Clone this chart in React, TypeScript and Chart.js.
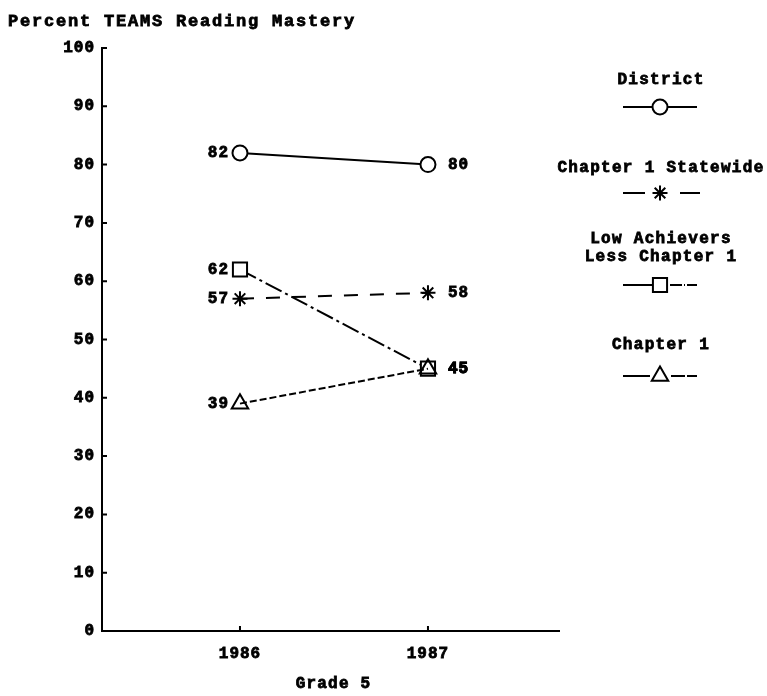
import React, { useEffect, useRef } from 'react';
import { Chart, registerables } from 'chart.js';
import { drawPoint } from 'chart.js/helpers';

Chart.register(...registerables);

// ---- data ----
const years = [1986, 1987];
const yTickValues = [0, 10, 20, 30, 40, 50, 60, 70, 80, 90, 100];
const district = [82, 80];
const statewide = [57, 58];
const lowAchievers = [62, 45];
const chapter1 = [39, 45];
const seriesNames = ['District', 'Chapter 1 Statewide', 'Low Achievers\nLess Chapter 1', 'Chapter 1'];
const chartTitle = 'Percent TEAMS Reading Mastery';
const xTitle = 'Grade 5';

const FONT = "'Liberation Mono', 'DejaVu Sans Mono', monospace";

const toPoints = (vals: number[]) => vals.map((v, i) => ({ x: years[i], y: v }));

const styles = [
  { pointStyle: 'circle', radius: 7.5, dash: [] as number[], order: 0, fill: '#fff' },
  { pointStyle: 'star', radius: 7.5, dash: [14, 12], order: 0, fill: '#fff' },
  { pointStyle: 'rect', radius: 10, dash: [18, 4, 3, 4], order: 0, fill: '#fff' },
  { pointStyle: 'triangle', radius: 9.5, dash: [7, 3], order: -1, fill: 'rgba(255,255,255,0)' },
];

const seriesValues = [district, statewide, lowAchievers, chapter1];

const boldText = (ctx: CanvasRenderingContext2D, t: string, x: number, y: number) => {
  ctx.fillText(t, x, y);
  ctx.strokeText(t, x, y);
};

const decorPlugin = {
  id: 'decor',
  beforeDraw(chart: any) {
    const ctx = chart.ctx;
    ctx.fillStyle = '#fff';
    ctx.fillRect(0, 0, chart.width, chart.height);
    (ctx as any).letterSpacing = '1px';
  },
  afterDraw(chart: any) {
    const ctx: CanvasRenderingContext2D = chart.ctx;
    const xs = chart.scales.x;
    const ys = chart.scales.y;
    const area = chart.chartArea;
    ctx.save();
    // inward tick marks
    ctx.strokeStyle = '#000';
    ctx.lineWidth = 2;
    ctx.setLineDash([]);
    ctx.beginPath();
    yTickValues.forEach((v) => {
      const y = ys.getPixelForValue(v);
      ctx.moveTo(area.left, y);
      ctx.lineTo(area.left + 5, y);
    });
    years.forEach((yr) => {
      const x = xs.getPixelForValue(yr);
      ctx.moveTo(x, area.bottom);
      ctx.lineTo(x, area.bottom - 5);
    });
    ctx.stroke();

    ctx.fillStyle = '#000';
    ctx.strokeStyle = '#000';
    ctx.lineWidth = 0.8;

    // title
    (ctx as any).letterSpacing = '1.8px';
    ctx.font = `bold 17px ${FONT}`;
    ctx.textAlign = 'left';
    ctx.textBaseline = 'alphabetic';
    boldText(ctx, chartTitle, 8, 26);

    // x axis title
    (ctx as any).letterSpacing = '1.2px';
    ctx.font = `bold 16px ${FONT}`;
    ctx.textAlign = 'center';
    ctx.textBaseline = 'middle';
    boldText(ctx, xTitle, (area.left + area.right) / 2 + 3, 684);

    // data labels
    (ctx as any).letterSpacing = '1px';
    ctx.font = `bold 16px ${FONT}`;
    ctx.textBaseline = 'middle';
    chart.data.datasets.forEach((ds: any, di: number) => {
      const meta = chart.getDatasetMeta(di);
      meta.data.forEach((el: any, i: number) => {
        const v = ds.data[i].y;
        if (i === 0) {
          ctx.textAlign = 'right';
          boldText(ctx, String(v), el.x - 11, el.y);
        } else {
          ctx.textAlign = 'left';
          boldText(ctx, String(v), el.x + 20, el.y);
        }
      });
    });

    // legend
    const cx = 660;
    const legend = [
      { textY: [80], symY: 107, left: [623, 697], right: null as null | number[] },
      { textY: [168], symY: 193, left: [623, 645], right: [680, 700] },
      { textY: [239, 257], symY: 285, left: [623, 652], right: [667, 697] },
      { textY: [345], symY: 376, left: [623, 650], right: [671, 697] },
    ];
    (ctx as any).letterSpacing = '1.3px';
    ctx.font = `bold 16px ${FONT}`;
    ctx.textAlign = 'center';
    ctx.textBaseline = 'middle';
    legend.forEach((lg, i) => {
      const lines = seriesNames[i].split('\n');
      ctx.lineWidth = 0.8;
      lines.forEach((t, k) => boldText(ctx, t, cx + 1, lg.textY[k]));
      ctx.lineWidth = 2;
      ctx.strokeStyle = '#000';
      if (i === 1) {
        ctx.setLineDash([]);
        ctx.beginPath();
        ctx.moveTo(lg.left[0], lg.symY);
        ctx.lineTo(lg.left[1], lg.symY);
        ctx.moveTo(lg.right![0], lg.symY);
        ctx.lineTo(lg.right![1], lg.symY);
        ctx.stroke();
      } else {
        ctx.setLineDash([]);
        ctx.beginPath();
        ctx.moveTo(lg.left[0], lg.symY);
        ctx.lineTo(lg.left[1], lg.symY);
        ctx.stroke();
        if (lg.right) {
          ctx.setLineDash(i === 2 ? [1, 2, 12, 2] : [14, 2]);
          ctx.beginPath();
          ctx.moveTo(lg.right[0], lg.symY);
          ctx.lineTo(lg.right[1], lg.symY);
          ctx.stroke();
        }
      }
      ctx.setLineDash([]);
      ctx.fillStyle = '#fff';
      ctx.strokeStyle = '#000';
      ctx.lineWidth = 2;
      drawPoint(ctx, { pointStyle: styles[i].pointStyle as any, radius: styles[i].radius, rotation: 0, borderWidth: 2 } as any, cx, lg.symY);
      ctx.fillStyle = '#000';
    });
    ctx.restore();
  },
};

export default function App() {
  const ref = useRef<HTMLCanvasElement | null>(null);
  useEffect(() => {
    if (!ref.current) return;
    const chart = new Chart(ref.current, {
      type: 'line',
      data: {
        datasets: seriesValues.map((vals, i) => ({
          label: seriesNames[i],
          data: toPoints(vals),
          order: styles[i].order,
          borderColor: '#000',
          borderWidth: 2,
          borderDash: styles[i].dash,
          pointStyle: styles[i].pointStyle as any,
          pointRadius: styles[i].radius,
          pointBackgroundColor: styles[i].fill,
          pointBorderColor: '#000',
          pointBorderWidth: 2,
          fill: false,
          tension: 0,
        })),
      },
      options: {
        animation: false,
        responsive: false,
        devicePixelRatio: 1,
        layout: { padding: { top: 48, right: 208, left: 0, bottom: 0 } },
        plugins: { legend: { display: false }, tooltip: { enabled: false }, title: { display: false } },
        scales: {
          x: {
            type: 'linear',
            min: 1985.266,
            max: 1987.697,
            afterFit: (s: any) => { s.height = 65; },
            afterBuildTicks: (s: any) => { s.ticks = years.map((v) => ({ value: v })); },
            grid: { display: false, drawTicks: false },
            border: { display: true, color: '#000', width: 2 },
            ticks: {
              color: '#000',
              font: { family: FONT, size: 16, weight: 'bold' },
              padding: 13,
              maxRotation: 0,
              autoSkip: false,
              textStrokeColor: '#000',
              textStrokeWidth: 0.8,
              callback: (v: any) => String(v),
            },
          },
          y: {
            type: 'linear',
            min: 0,
            max: 100,
            afterFit: (s: any) => { s.width = 102; },
            grid: { display: false, drawTicks: false },
            border: { display: true, color: '#000', width: 2 },
            ticks: {
              stepSize: 10,
              color: '#000',
              font: { family: FONT, size: 16, weight: 'bold' },
              padding: 7,
              textStrokeColor: '#000',
              textStrokeWidth: 0.8,
            },
          },
        },
      },
      plugins: [decorPlugin],
    });
    return () => chart.destroy();
  }, []);
  return (
    <div style={{ position: 'absolute', left: 0, top: 0, width: 767, height: 696, background: '#fff' }}>
      <canvas ref={ref} width={767} height={696} style={{ display: 'block', width: 767, height: 696 }} />
    </div>
  );
}
